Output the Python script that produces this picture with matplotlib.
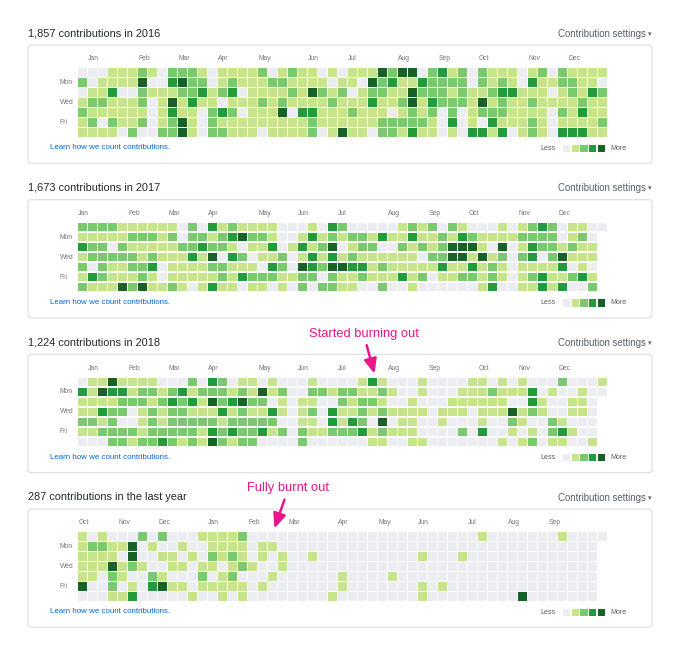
import matplotlib.pyplot as plt
from matplotlib.patches import Rectangle, FancyBboxPatch

plt.rcParams['font.family'] = ['Liberation Sans', 'DejaVu Sans']

# contribution level (0-4) per day: one string per weekday row (Sun..Sat), one char per week
grid_2016 = [
    "0001112102221011112012110" + "1" + "011142440231202111012021111",
    "2011114003422012111221111" + "0" + "110423113222202121031122110",
    "0113002111223123011112142" + "1" + "201221142221211233111012132",
    "1221112014131101112121111" + "2" + "111311241322214121121111211",
    "2111111013110232011140331" + "1" + "121110121202012221111021311",
    "1202112012410211111111121" + "1" + "111122222103010311121011112",
    "1111020022410221110111120" + "1" + "411022131101033130121033311",
]
grid_2017 = [
    "22221111110203121111000103" + "200000121202100010123201100",
    "11111222120221234221001312" + "12213113112132111122220120",
    "32202111112232210113013124" + "01220021212444104013221211",
    "12222212111314032011201313" + "12111111022441412023024111",
    "20211223011112211103204324" + "43312111113113121011113010",
    "13211121011111213222112202" + "11211131201122121012311231",
    "21114241121013110110102022" + "11002001000000130011313002",
]
grid_2018 = [
    "01141111000203201101000100" + "001310001000011010100020001",
    "31433122123122212141200221" + "221121001000111211130100100",
    "11112221232314234220101100" + "21221001000111111003100110",
    "11322012122111312113101203" + "11212111101110111412100110",
    "22120012122222122222001103" + "13204011001000100210021000",
    "11222212222213232231202112" + "22312111000020300101023100",
    "00022122321214212200002000" + "00011001100000001012011001",
]
grid_last = [
    "10100020200011112000000000" + "000000000000001000000010000",
    "12211401001001111011000000" + "00000000000000000000000000",
    "11110400110102121010100100" + "00000000100010000000000000",
    "11141210011011012100100000" + "00000000000000000000000000",
    "11021002100020120001000000" + "10000100000000000000000000",
    "40020103411011111010000000" + "10000000101000000000000000",
    "00011300000100101000000001" + "00000000100000000040000000",
]

titles = ["1,857 contributions in 2016", "1,673 contributions in 2017",
          "1,224 contributions in 2018", "287 contributions in the last year"]

months_year = ["Jan", "Feb", "Mar", "Apr", "May", "Jun",
               "Jul", "Aug", "Sep", "Oct", "Nov", "Dec"]
months_last = ["Oct", "Nov", "Dec", "Jan", "Feb", "Mar",
               "Apr", "May", "Jun", "Jul", "Aug", "Sep"]
month_cols_2016 = [1, 6, 10, 14, 18, 23, 27, 32, 36, 40, 45, 49]
month_cols_2017 = [0, 5, 9, 13, 18, 22, 26, 31, 35, 39, 44, 48]
month_cols_2018 = [1, 5, 9, 13, 18, 22, 26, 31, 35, 40, 44, 48]
month_cols_last = [0, 4, 8, 13, 17, 21, 26, 30, 34, 39, 43, 47]

day_labels = ["Mon", "Wed", "Fri"]
day_rows = [1, 3, 5]

level_colors = ["#ebedf0", "#c6e48b", "#7bc96f", "#239a3b", "#196127"]

# notes: (panel, week column, text)
notes = [(2, 29, "Started burning out"), (3, 19, "Fully burnt out")]
note_offsets = [(-11, -40), (14, -40)]

panels = [
    (grid_2016, months_year, month_cols_2016),
    (grid_2017, months_year, month_cols_2017),
    (grid_2018, months_year, month_cols_2018),
    (grid_last, months_last, month_cols_last),
]

fig = plt.figure(figsize=(6.8, 6.6), dpi=100)
ax = fig.add_axes([0, 0, 1, 1])
ax.set_xlim(0, 680)
ax.set_ylim(660, 0)
ax.axis("off")

x0 = 78.3      # left of first week column
step = 10.0    # cell pitch
cell = 8.3
panel_gap = 154.65
pink = "#e8168a"

for i, (grid, mnames, mcols) in enumerate(panels):
    top = 68.3 + i * panel_gap

    ax.text(28, top - 35, titles[i], fontsize=7.9, color="#24292e", va="center", ha="left")
    ax.text(646, top - 34.5, "Contribution settings", fontsize=6.9, color="#586069",
            va="center", ha="right")
    ax.text(651, top - 34, "\u25be", fontsize=5, color="#586069", va="center", ha="right")

    box = FancyBboxPatch((28, top - 23.3), 624, 118.3,
                         boxstyle="round,pad=0,rounding_size=3",
                         fc="white", ec="#dfe2e5", lw=0.9)
    ax.add_patch(box)

    for name, c in zip(mnames, mcols):
        ax.text(x0 + c * step, top - 9.3, name, fontsize=4.9, color="#767676",
                va="center", ha="left")
    for name, r in zip(day_labels, day_rows):
        ax.text(60, top + r * step + cell / 2, name, fontsize=4.9, color="#767676",
                va="center", ha="left")

    for r, row in enumerate(grid):
        for c, ch in enumerate(row):
            ax.add_patch(Rectangle((x0 + c * step, top + r * step), cell, cell,
                                   fc=level_colors[int(ch)], ec="none"))

    ax.text(50, top + 79.5, "Learn how we count contributions.", fontsize=5.7,
            color="#0366d6", va="center", ha="left")

    ax.text(556, top + 80, "Less", fontsize=5.1, color="#586069", va="center", ha="right")
    for k, col in enumerate(level_colors):
        ax.add_patch(Rectangle((563 + k * 8.7, top + 80 - 3.65), 7.3, 7.3, fc=col, ec="none"))
    ax.text(610, top + 80, "More", fontsize=5.1, color="#586069", va="center", ha="left")

for (p, c, label), (dx, dy) in zip(notes, note_offsets):
    tip = (x0 + c * step + cell / 2 + 2, 68.3 + p * panel_gap - 4)
    ax.annotate(label, xy=tip, xytext=(tip[0] + dx, tip[1] + dy),
                fontsize=9.3, color=pink, ha="center", va="center",
                arrowprops=dict(arrowstyle="-|>,head_length=0.8,head_width=0.35",
                                color=pink, lw=1.8,
                                mutation_scale=11, shrinkA=2, shrinkB=0))

plt.savefig("out.png", dpi=100, facecolor="white")
